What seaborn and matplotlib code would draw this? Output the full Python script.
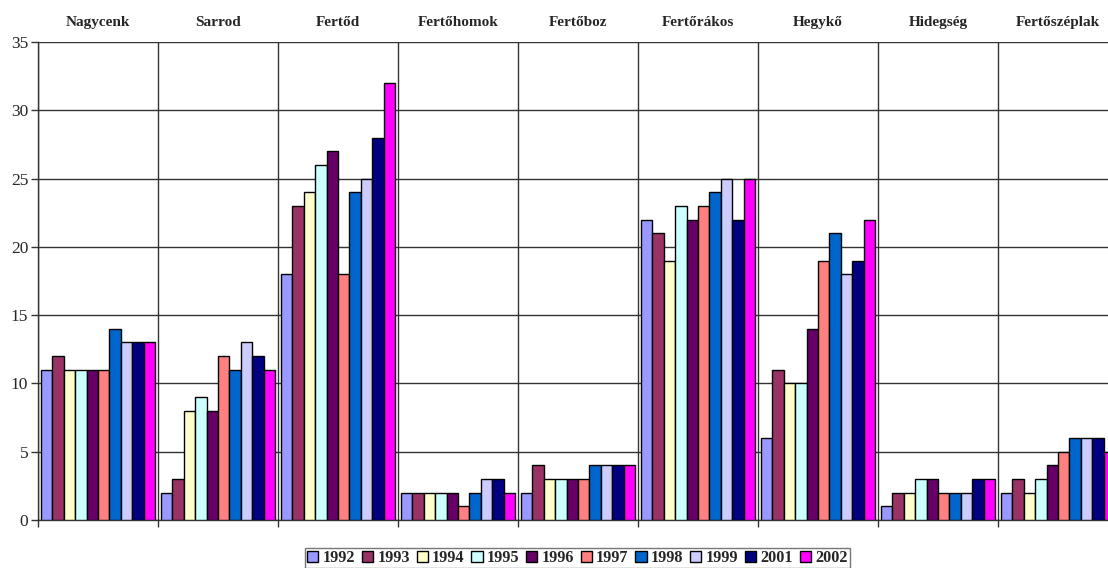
import numpy as np
import pandas as pd
import matplotlib
matplotlib.use("Agg")
import matplotlib.pyplot as plt
import seaborn as sns

# settlements (group headers) and years (series)
sites = ["Nagycenk", "Sarrod", "Fertőd", "Fertőhomok", "Fertőboz",
         "Fertőrákos", "Hegykő", "Hidegség", "Fertőszéplak"]
years = ["1992", "1993", "1994", "1995", "1996", "1997", "1998", "1999", "2001", "2002"]

nagycenk = [11, 12, 11, 11, 11, 11, 14, 13, 13, 13]
sarrod = [2, 3, 8, 9, 8, 12, 11, 13, 12, 11]
fertod = [18, 23, 24, 26, 27, 18, 24, 25, 28, 32]
fertohomok = [2, 2, 2, 2, 2, 1, 2, 3, 3, 2]
fertoboz = [2, 4, 3, 3, 3, 3, 4, 4, 4, 4]
fertorakos = [22, 21, 19, 23, 22, 23, 24, 25, 22, 25]
hegyko = [6, 11, 10, 10, 14, 19, 21, 18, 19, 22]
hidegseg = [1, 2, 2, 3, 3, 2, 2, 2, 3, 3]
fertoszeplak = [2, 3, 2, 3, 4, 5, 6, 6, 6, 5]

values = [nagycenk, sarrod, fertod, fertohomok, fertoboz,
          fertorakos, hegyko, hidegseg, fertoszeplak]

colors = ["#9999FF", "#993366", "#FFFFCC", "#CCFFFF", "#660066",
          "#FF8080", "#0066CC", "#CCCCFF", "#000080", "#FF00FF"]

rows = []
for site, vals in zip(sites, values):
    for yr, v in zip(years, vals):
        rows.append({"site": site, "year": yr, "value": v})
df = pd.DataFrame(rows)

sns.set_style("white")
plt.rcParams["font.family"] = ["Liberation Serif", "DejaVu Serif"]

W, H = 1108, 568
fig = plt.figure(figsize=(W / 100, H / 100), dpi=100)
# axis runs past the right edge of the image, like the original
ax = fig.add_axes([38 / W, 48 / H, 1080 / W, 478 / H])

sns.barplot(data=df, x="site", y="value", hue="year", order=sites, hue_order=years,
            palette=colors, width=0.95, edgecolor="black", linewidth=1.0,
            saturation=1, ax=ax, zorder=3)

ax.set_xlim(-0.5, len(sites) - 0.5)
ax.set_ylim(0, 35)
ax.set_yticks(np.arange(0, 36, 5))
ax.set_xlabel("")
ax.set_ylabel("")

# group names on top
ax.set_xticks(range(len(sites)))
ax.set_xticklabels(sites, fontweight="bold", fontsize=11)
ax.tick_params(axis="x", which="major", top=False, bottom=False,
               labeltop=True, labelbottom=False, pad=6)
ax.set_xticks(np.arange(-0.5, len(sites), 1), minor=True)
ax.tick_params(axis="x", which="minor", bottom=True, length=5,
               width=1, color="#333333", direction="out")
ax.tick_params(axis="y", left=True, length=5, width=1, color="#333333",
               direction="out", labelsize=12.5, pad=2)

ax.set_axisbelow(True)
ax.grid(axis="y", which="major", color="#333333", linewidth=1)
ax.grid(axis="x", which="minor", color="#333333", linewidth=1)
for s in ["top", "right"]:
    ax.spines[s].set_visible(False)
for s in ["left", "bottom"]:
    ax.spines[s].set_color("#333333")
    ax.spines[s].set_linewidth(1)

handles, labels = ax.get_legend_handles_labels()
ax.get_legend().remove()
leg = fig.legend(handles, labels, loc="upper center", bbox_to_anchor=(0.521, 0.036),
                 ncol=10, frameon=True, fancybox=False, handlelength=0.7,
                 handleheight=0.7, handletextpad=0.25, columnspacing=0.42,
                 borderpad=0.15, borderaxespad=0, prop={"weight": "bold", "size": 11.7})
leg.get_frame().set_edgecolor("#555555")
leg.get_frame().set_linewidth(1)

fig.savefig("out.png", dpi=100)
